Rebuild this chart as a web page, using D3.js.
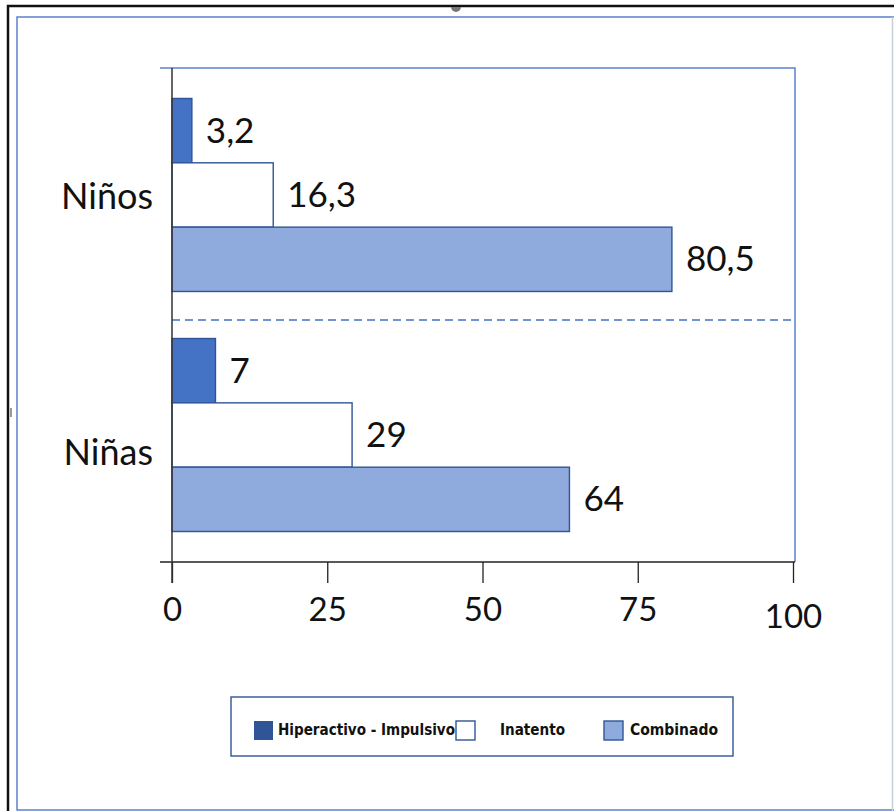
<!DOCTYPE html>
<html>
<head>
<meta charset="utf-8">
<script src="https://cdn.jsdelivr.net/npm/d3@7"></script>
<style>
  html, body { margin: 0; padding: 0; background: #fff; }
  svg { display: block; }
</style>
</head>
<body>
<script>
// Categories, series and values (percent)
const categories = ["Niños", "Niñas"];
const seriesNames = ["Hiperactivo - Impulsivo", "Inatento", "Combinado"];
const hiperactivo = [3.2, 7];
const inatento = [16.3, 29];
const combinado = [80.5, 64];
const xTicks = [0, 25, 50, 75, 100];

const W = 894, H = 811;
const plot = { left: 172, right: 793, top: 68, bottom: 562 };

const barFill = { "Hiperactivo - Impulsivo": "#4472c4", "Inatento": "#ffffff", "Combinado": "#8faadc" };
const legendFill = { "Hiperactivo - Impulsivo": "#2f5597", "Inatento": "#ffffff", "Combinado": "#8faadc" };
const edge = "#2f5597";
const frameBlue = "#5b82cc";
const mainFont = "Lato, 'Open Sans', 'Noto Sans', sans-serif";
const legendFont = "'Liberation Sans Narrow', 'DejaVu Sans Condensed', 'Noto Sans', sans-serif";

const comma = d3.formatLocale({ decimal: ",", thousands: ".", grouping: [3], currency: ["", ""] }).format("~g");

const rows = categories.map((c, i) => ({
  category: c,
  values: [
    { series: seriesNames[0], value: hiperactivo[i] },
    { series: seriesNames[1], value: inatento[i] },
    { series: seriesNames[2], value: combinado[i] }
  ]
}));

const svg = d3.select("body").append("svg").attr("width", W).attr("height", H);

// Page frames
svg.append("rect").attr("x", 17).attr("y", 17).attr("width", W).attr("height", H - 18)
  .attr("fill", "none").attr("stroke", frameBlue).attr("stroke-width", 1.5);
svg.append("line").attr("x1", W - 1.5).attr("x2", W - 1.5).attr("y1", 17).attr("y2", H)
  .attr("stroke", "#c5cedb").attr("stroke-width", 1.5);
svg.append("path").attr("d", `M8,${H} V6 H${W}`)
  .attr("fill", "none").attr("stroke", "#111").attr("stroke-width", 2.5);
svg.append("path").attr("d", "M451,7 A5,5 0 0 0 461,7 Z").attr("fill", "#777");
svg.append("rect").attr("x", 10).attr("y", 408).attr("width", 2).attr("height", 9).attr("fill", "#999");

// Scales
const x = d3.scaleLinear().domain([0, 100]).range([plot.left, plot.right]);
const y = d3.scaleBand().domain(categories).range([plot.top, plot.bottom])
  .paddingInner(0.196).paddingOuter(0.127);
const ySub = d3.scaleBand().domain(seriesNames).range([0, y.bandwidth()]);

// Plot frame: top and right edges
svg.append("path")
  .attr("d", `M160,${plot.top} H${plot.right + 2} V${plot.bottom}`)
  .attr("fill", "none").attr("stroke", frameBlue).attr("stroke-width", 1.5);

// Dashed separator between the two groups
const sepY = y(categories[1]) - y.step() * y.paddingInner() / 2 + 5;
svg.append("line")
  .attr("x1", plot.left).attr("x2", plot.right).attr("y1", sepY).attr("y2", sepY)
  .attr("stroke", "#4472c4").attr("stroke-width", 1.3).attr("stroke-dasharray", "8,5");

// Bars
const groups = svg.append("g").selectAll("g").data(rows).join("g")
  .attr("transform", d => `translate(0,${y(d.category)})`);

groups.selectAll("rect").data(d => d.values).join("rect")
  .attr("x", x(0))
  .attr("y", d => ySub(d.series))
  .attr("width", d => x(d.value) - x(0))
  .attr("height", ySub.bandwidth())
  .attr("fill", d => barFill[d.series])
  .attr("stroke", edge)
  .attr("stroke-width", 1.4);

// Value labels
groups.selectAll("text").data(d => d.values).join("text")
  .attr("x", d => x(d.value) + 14)
  .attr("y", d => ySub(d.series) + ySub.bandwidth() / 2 + 12)
  .attr("font-family", mainFont).attr("font-size", 35).attr("fill", "#111")
  .text(d => comma(d.value));

// Category labels
svg.append("g").selectAll("text").data(categories).join("text")
  .attr("x", 153)
  .attr("y", (d, i) => y(d) + y.bandwidth() / 2 + (i === 0 ? 14 : 30))
  .attr("text-anchor", "end")
  .attr("font-family", mainFont).attr("font-size", 36).attr("fill", "#111")
  .text(d => d);

// X axis
const xAxis = svg.append("g").attr("transform", `translate(0,${plot.bottom})`)
  .call(d3.axisBottom(x).tickValues(xTicks).tickSize(21).tickPadding(12).tickFormat(d3.format("d")));
xAxis.select(".domain").remove();
xAxis.selectAll(".tick line").attr("stroke", "#222").attr("stroke-width", 1.3);
xAxis.selectAll(".tick text")
  .attr("font-family", mainFont).attr("font-size", 33).attr("fill", "#111")
  .attr("dy", d => d === 100 ? "1.0em" : "0.8em");
xAxis.append("line").attr("x1", 160).attr("x2", plot.right + 2).attr("y1", 0).attr("y2", 0)
  .attr("stroke", "#222").attr("stroke-width", 1.5);

// Y axis line
svg.append("line").attr("x1", plot.left).attr("x2", plot.left)
  .attr("y1", plot.top).attr("y2", plot.bottom + 21)
  .attr("stroke", "#333").attr("stroke-width", 1.5);

// Legend
const legend = svg.append("g");
legend.append("rect").attr("x", 231).attr("y", 697).attr("width", 502).attr("height", 59)
  .attr("fill", "#fff").attr("stroke", edge).attr("stroke-width", 1.4);
const legendItems = [
  { name: seriesNames[0], sx: 254, tx: 278, tl: 177 },
  { name: seriesNames[1], sx: 456, tx: 500, tl: 65 },
  { name: seriesNames[2], sx: 604, tx: 630, tl: 88 }
];
const li = legend.selectAll("g").data(legendItems).join("g");
li.append("rect")
  .attr("x", d => d.sx).attr("y", 721).attr("width", 19).attr("height", 19)
  .attr("fill", d => legendFill[d.name])
  .attr("stroke", d => d.name === seriesNames[0] ? "none" : edge)
  .attr("stroke-width", 1.4);
li.append("text")
  .attr("x", d => d.tx).attr("y", 735)
  .attr("font-family", legendFont).attr("font-size", 16).attr("font-weight", "bold")
  .attr("fill", "#111")
  .attr("textLength", d => d.tl).attr("lengthAdjust", "spacingAndGlyphs")
  .text(d => d.name);
</script>
</body>
</html>
